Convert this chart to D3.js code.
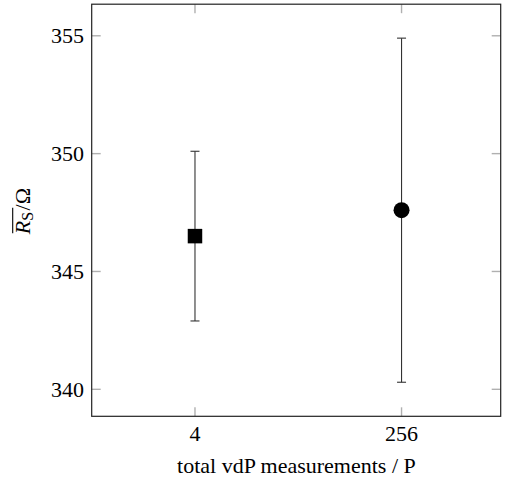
<!DOCTYPE html>
<html><head><meta charset="utf-8">
<script src="https://cdn.jsdelivr.net/npm/d3@7/dist/d3.min.js"></script>
<style>body{margin:0;background:#fff}svg{display:block}svg text{font-family:"Liberation Serif","Times New Roman",serif !important}</style>
</head><body>
<svg id="c" width="508" height="481"></svg>
<script>
const categories = ["4", "256"];
const means = [346.5, 347.6];
const lowers = [342.9, 340.3];
const uppers = [350.1, 354.9];
const markers = ["square", "circle"];
const yTicks = [340, 345, 350, 355];

const FONT = '"Liberation Serif", "Times New Roman", serif';
const svg = d3.select("#c");
const m = {l: 91.7, r: 500.7, t: 4.2, b: 416.3};
const xs = d3.scaleLinear().domain([0.5, 2.48]).range([m.l, m.r]);
const ys = d3.scaleLinear().domain([338.855, 356.34]).range([m.b, m.t]);
const tickLen = 9, tickCol = "#b0b0b0";
const idx = categories.map((c, i) => i + 1);

const g = svg.append("g");
g.selectAll(".yl").data(yTicks).enter().append("line")
  .attr("x1", m.l).attr("x2", m.l + tickLen).attr("y1", d => ys(d)).attr("y2", d => ys(d))
  .attr("stroke", tickCol).attr("stroke-width", 1.4);
g.selectAll(".yr").data(yTicks).enter().append("line")
  .attr("x1", m.r).attr("x2", m.r - tickLen).attr("y1", d => ys(d)).attr("y2", d => ys(d))
  .attr("stroke", tickCol).attr("stroke-width", 1.4);
g.selectAll(".xb").data(idx).enter().append("line")
  .attr("x1", d => xs(d)).attr("x2", d => xs(d)).attr("y1", m.b).attr("y2", m.b - tickLen)
  .attr("stroke", tickCol).attr("stroke-width", 1.4);
g.selectAll(".xt").data(idx).enter().append("line")
  .attr("x1", d => xs(d)).attr("x2", d => xs(d)).attr("y1", m.t).attr("y2", m.t + tickLen)
  .attr("stroke", tickCol).attr("stroke-width", 1.4);

svg.append("rect").attr("x", m.l).attr("y", m.t).attr("width", m.r - m.l).attr("height", m.b - m.t)
  .attr("fill", "none").attr("stroke", "#222").attr("stroke-width", 1.2);

svg.selectAll(".ytl").data(yTicks).enter().append("text")
  .style("font-family", FONT, "important")
  .attr("x", 84).attr("y", d => ys(d) + 7.6).attr("text-anchor", "end")
  .attr("font-size", 22).text(d => d);
svg.selectAll(".xtl").data(categories).enter().append("text")
  .style("font-family", FONT, "important")
  .attr("x", (d, i) => xs(i + 1)).attr("y", 440.7).attr("text-anchor", "middle")
  .attr("font-size", 22).text(d => d);

svg.append("text").style("font-family", FONT, "important")
  .attr("x", 296.4).attr("y", 473).attr("text-anchor", "middle")
  .attr("font-size", 22).text("total vdP measurements / P");

const yl = svg.append("g").attr("transform", `translate(30,${(m.t + m.b) / 2}) rotate(-90)`);
const yt = yl.append("text").style("font-family", FONT, "important").attr("x", -24).attr("text-anchor", "start").attr("font-size", 22);
yt.append("tspan").attr("font-style", "italic").text("R");
yt.append("tspan").attr("font-size", 16).attr("dy", 2.5).text("S");
yt.append("tspan").attr("dy", -2.5).attr("dx", 1.5).text("/Ω");
yl.append("line").attr("x1", -23).attr("x2", 2.5).attr("y1", -17.3).attr("y2", -17.3)
  .attr("stroke", "#000").attr("stroke-width", 1.1);

const cap = 4.5;
const eb = svg.append("g").attr("stroke", "#333").attr("stroke-width", 1.1);
eb.selectAll(".v").data(idx).enter().append("line")
  .attr("x1", d => xs(d)).attr("x2", d => xs(d))
  .attr("y1", (d, i) => ys(lowers[i])).attr("y2", (d, i) => ys(uppers[i]));
eb.selectAll(".cu").data(idx).enter().append("line")
  .attr("x1", d => xs(d) - cap).attr("x2", d => xs(d) + cap)
  .attr("y1", (d, i) => ys(uppers[i])).attr("y2", (d, i) => ys(uppers[i]));
eb.selectAll(".cl").data(idx).enter().append("line")
  .attr("x1", d => xs(d) - cap).attr("x2", d => xs(d) + cap)
  .attr("y1", (d, i) => ys(lowers[i])).attr("y2", (d, i) => ys(lowers[i]));

const sym = {square: d3.symbolSquare, circle: d3.symbolCircle};
const size = {square: 14.5 * 14.5, circle: Math.PI * 8 * 8};
svg.selectAll(".mk").data(idx).enter().append("path")
  .attr("transform", (d, i) => `translate(${xs(d)},${ys(means[i])})`)
  .attr("d", (d, i) => d3.symbol(sym[markers[i]], size[markers[i]])())
  .attr("fill", "#000");
</script>
</body></html>
